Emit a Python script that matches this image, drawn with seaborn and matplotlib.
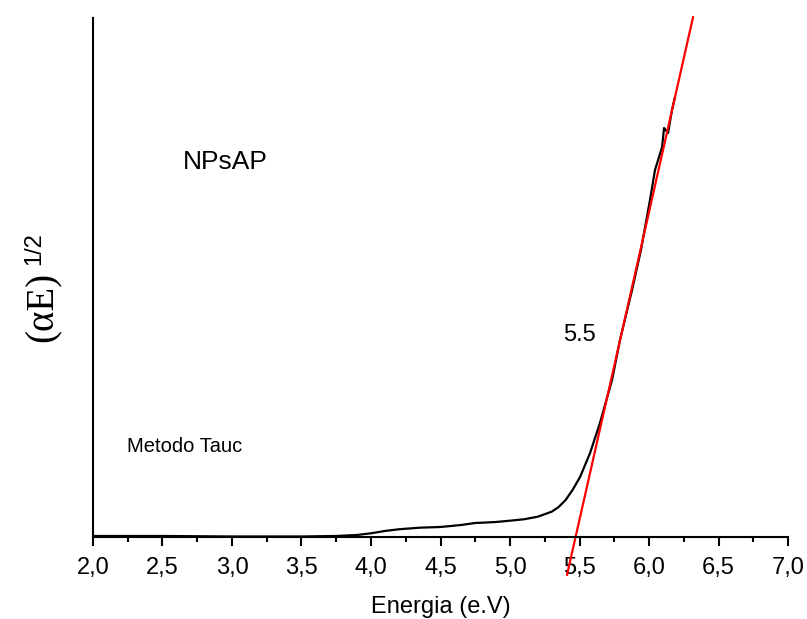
import numpy as np
import pandas as pd
import matplotlib
matplotlib.use("Agg")
import matplotlib.pyplot as plt
import seaborn as sns

# Tauc curve (arbitrary units)
energia = [2.0, 2.5, 3.0, 3.5, 3.75, 3.9, 4.0, 4.1, 4.2, 4.35, 4.5, 4.65, 4.75,
           4.8, 4.9, 5.0, 5.1, 5.2, 5.3, 5.35, 5.4, 5.45, 5.504, 5.576, 5.647,
           5.734, 5.791, 5.878, 5.942, 6.007, 6.043, 6.072, 6.094, 6.108,
           6.137, 6.165, 6.187]
alpha_e = [0.01, 0.01, 0.005, 0.005, 0.01, 0.02, 0.037, 0.06, 0.077, 0.093,
           0.10, 0.12, 0.14, 0.143, 0.15, 0.163, 0.177, 0.203, 0.253, 0.30,
           0.37, 0.47, 0.60, 0.84, 1.14, 1.57, 1.97, 2.47, 2.87, 3.37, 3.67,
           3.80, 3.90, 4.09, 4.04, 4.27, 4.40]

# linear fit (tangent) endpoints
fit_x = [5.41, 6.317]
fit_y = [-0.38, 5.20]

x_ticks = [2.0, 2.5, 3.0, 3.5, 4.0, 4.5, 5.0, 5.5, 6.0, 6.5, 7.0]
x_labels = ["2,0", "2,5", "3,0", "3,5", "4,0", "4,5", "5,0", "5,5", "6,0", "6,5", "7,0"]

sns.set_style("ticks")
plt.rcParams['font.family'] = ['Liberation Sans', 'DejaVu Sans']
plt.rcParams['text.color'] = 'black'
plt.rcParams['axes.labelcolor'] = 'black'
plt.rcParams['xtick.color'] = 'black'

fig = plt.figure(figsize=(8.07, 6.19), dpi=100)
ax = fig.add_axes([0.1152, 0.1325, 0.8613, 0.8384])

curve = pd.DataFrame({'x': energia, 'y': alpha_e})
fit = pd.DataFrame({'x': fit_x, 'y': fit_y})

sns.lineplot(data=curve, x='x', y='y', ax=ax, color='black', lw=1.6,
             sort=False, estimator=None)
sns.lineplot(data=fit, x='x', y='y', ax=ax, color='red', lw=1.6,
             sort=False, estimator=None, clip_on=False)

ax.set_xlim(2.0, 7.0)
ax.set_ylim(0, 5.19)
ax.set_xticks(x_ticks)
ax.set_xticklabels(x_labels, fontsize=17)
ax.set_xticks(np.arange(2.25, 7.0, 0.5), minor=True)
ax.set_yticks([])
ax.tick_params(axis='x', which='major', length=6.5, width=1.5, direction='out',
               pad=8, colors='black')
ax.tick_params(axis='x', which='minor', length=3.6, width=1.5, direction='out',
               colors='black')
for side in ['top', 'right']:
    ax.spines[side].set_visible(False)
for side in ['left', 'bottom']:
    ax.spines[side].set_linewidth(1.5)
    ax.spines[side].set_color('black')

ax.set_xlabel('Energia (e.V)', fontsize=17, labelpad=12, color='black')
ax.set_ylabel('')

# annotations
fig.text(225 / 807, 1 - 162 / 619, 'NPsAP', fontsize=19, ha='center', va='center')
fig.text(579 / 807, 1 - 335 / 619, '5.5', fontsize=17, ha='center', va='center')
fig.text(185 / 807, 1 - 447 / 619, 'Metodo Tauc', fontsize=14.5, ha='center', va='center')

# y label: (αE)^1/2
fig.text(43 / 807, 1 - 307 / 619, '(αE)', rotation=90, fontsize=28,
         family=['Liberation Serif', 'DejaVu Serif'], ha='center', va='center')
fig.text(34 / 807, 1 - 249 / 619, '1/2', rotation=90, fontsize=17,
         ha='center', va='center')

fig.savefig('out.png', dpi=100)
